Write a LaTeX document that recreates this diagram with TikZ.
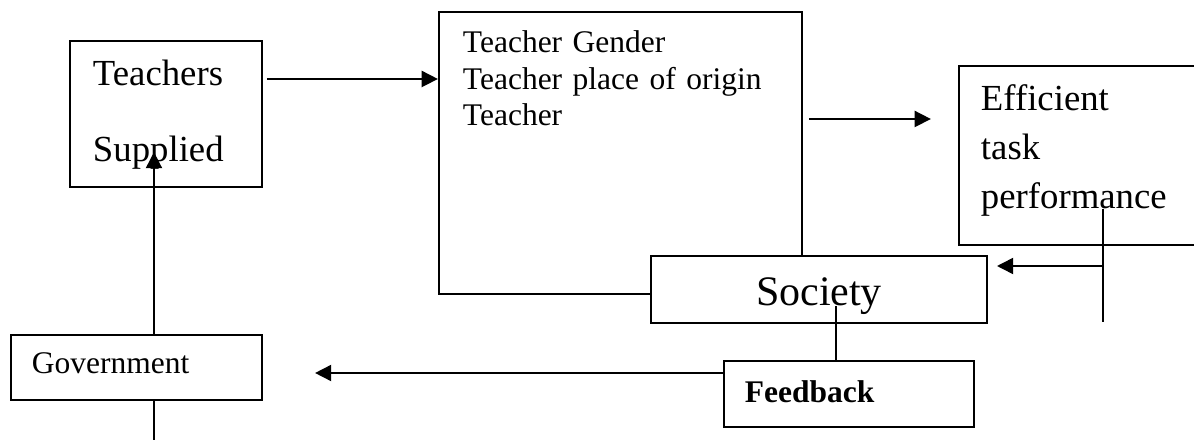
\documentclass[tikz,border=0pt]{standalone}
\usepackage{fontspec}
\setmainfont{Liberation Serif}
\usepackage{tikz}
\usetikzlibrary{arrows.meta}
\newlength{\pxu}
\setlength{\pxu}{0.381pt}

\begin{document}
\begin{tikzpicture}[
  x=\pxu, y=-\pxu,
  box/.style={draw, line width=0.75pt, rectangle, anchor=north west,
              inner ysep=0pt, align=left, fill=white},
  link/.style={line width=1pt},
  arr/.style={-{Triangle[length=6.2pt, width=6pt]}, line width=1.1pt}
]
  \useasboundingbox (0,0) rectangle (1194,440);
  \clip (0,0) rectangle (1194,440);

  \node[box, inner xsep=23\pxu, text width=146\pxu, text height=45\pxu,
        text depth=101\pxu, font=\fontsize{14}{28.6}\selectfont]
        (ts) at (69,40) {Teachers\\Supplied};
  \node[box, inner xsep=24\pxu, text width=315\pxu, text height=41\pxu,
        text depth=241\pxu, font=\fontsize{12}{13.9}\selectfont]
        (tv) at (438,11) {Teacher Gender\\Teacher place of origin\\Teacher};
  \node[box, inner xsep=22\pxu, text width=208\pxu, text height=45\pxu,
        text depth=134\pxu, font=\fontsize{14}{18.5}\selectfont]
        (eff) at (958,65) {Efficient\\task\\performance};
  \node[box, inner xsep=0pt, text width=336\pxu, align=center, text height=50\pxu,
        text depth=17\pxu, font=\fontsize{16}{19}\selectfont]
        (soc) at (650,255) {Society};
  \node[box, inner xsep=21\pxu, text width=208\pxu, text height=42\pxu,
        text depth=24\pxu, font=\fontsize{12}{14}\selectfont\bfseries]
        (fb) at (723,360) {Feedback};
  \node[box, inner xsep=21\pxu, text width=209\pxu, text height=39\pxu,
        text depth=26\pxu, font=\fontsize{12}{14}\selectfont]
        (gov) at (10,334) {Government};

  % connector end points
  \coordinate (tsout) at ([shift={(4,-35)}]ts.east);
  \coordinate (tvout) at ([shift={(6,-34)}]tv.east);
  \coordinate (effdrop) at ([shift={(145,-37)}]eff.south west);
  \coordinate (socin) at ([shift={(0,11)}]soc.north east);
  \coordinate (socdrop) at ([shift={(17,16.5)}]soc.center);
  \coordinate (fbout) at ([shift={(0,13)}]fb.north west);
  \coordinate (govup) at ([shift={(17.5,0)}]gov.north);
  \coordinate (tsin) at ([shift={(0,-36)}]ts.south);
  \coordinate (govend) at ([shift={(17.5,45)}]gov.south);

  \draw[arr] (tsout) -- (tsout -| tv.west);
  \draw[arr, shorten >=10.3pt] (tvout) -- (tvout -| eff.west);
  \draw[link, line width=0.75pt] (effdrop) -- ++(0,113);
  \draw[arr, shorten >=3.4pt] (socin -| effdrop) -- (socin);
  \draw[link] (socdrop) -- (socdrop |- fb.north);
  \draw[arr, shorten >=19.8pt] (fbout) -- (fbout -| gov.east);
  \draw[arr] (govup) -- (govup |- tsin);
  \draw[link] (govup |- gov.south) -- (govend);
\end{tikzpicture}
\end{document}
